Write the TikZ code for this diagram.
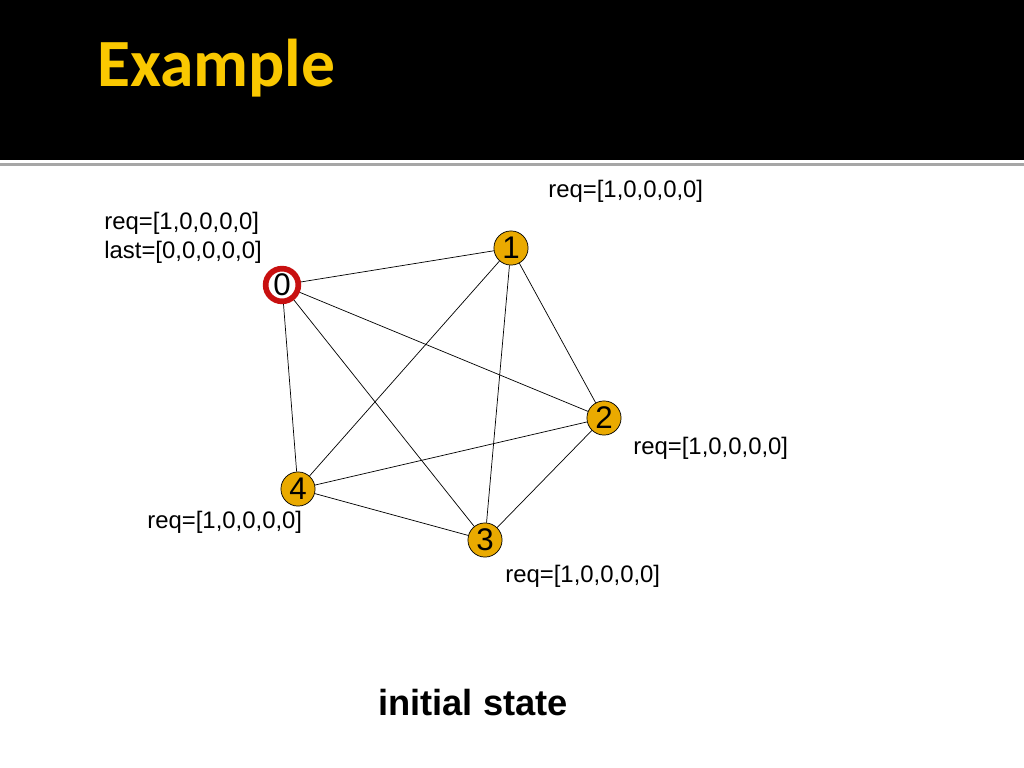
\documentclass[tikz,border=0pt]{standalone}
\usepackage{fontspec}
\setmainfont{Liberation Sans}
\newfontfamily\titlefont{Carlito}
\begin{document}
\begin{tikzpicture}[x=0.703pt,y=-0.703pt,
  vertex/.style={circle,draw,fill=gold,inner sep=0pt,minimum size=24pt,font=\fontsize{22}{24}\selectfont},
  start/.style={circle,draw=ringred,line width=4pt,fill=white,inner sep=0pt,minimum size=23pt,font=\fontsize{22}{24}\selectfont},
  state/.style={anchor=west,align=left,inner sep=0pt,font=\fontsize{16.8}{20}\selectfont},
  every path/.style={line width=0.5pt}]
\definecolor{gold}{RGB}{234,170,0}
\definecolor{ringred}{RGB}{200,16,16}
\definecolor{titlegold}{RGB}{250,200,0}
\useasboundingbox (0,0) rectangle (1024,768);
\fill[black] (0,0) rectangle (1024,160);
\fill[gray!70] (0,163) rectangle (1024,166);
\node[anchor=west,text=titlegold,inner sep=0pt,font=\titlefont\bfseries\fontsize{47.5}{54}\selectfont] (title) at (97,68) {Example};
\node[start] (0) at (282,285) {0};
\node[vertex] (1) at (511,248) {1};
\node[vertex] (2) at (604,418) {2};
\node[vertex] (3) at (485,540) {3};
\node[vertex] (4) at (298,489) {4};
\foreach \a/\b in {0/1,0/2,0/3,0/4,1/2,1/3,1/4,2/3,2/4,3/4}
	\draw (\a) -- (\b);
\node[state] (req0) at (104,238) {req=[1,0,0,0,0]\\last=[0,0,0,0,0]};
\node[state] (req1) at (548,191) {req=[1,0,0,0,0]};
\node[state] (req2) at (633,448) {req=[1,0,0,0,0]};
\node[state] (req3) at (505,576) {req=[1,0,0,0,0]};
\node[state] (req4) at (147,522) {req=[1,0,0,0,0]};
\node[font=\bfseries\fontsize{25.5}{30}\selectfont] (caption) at (473,703) {initial state};
\end{tikzpicture}
\end{document}
